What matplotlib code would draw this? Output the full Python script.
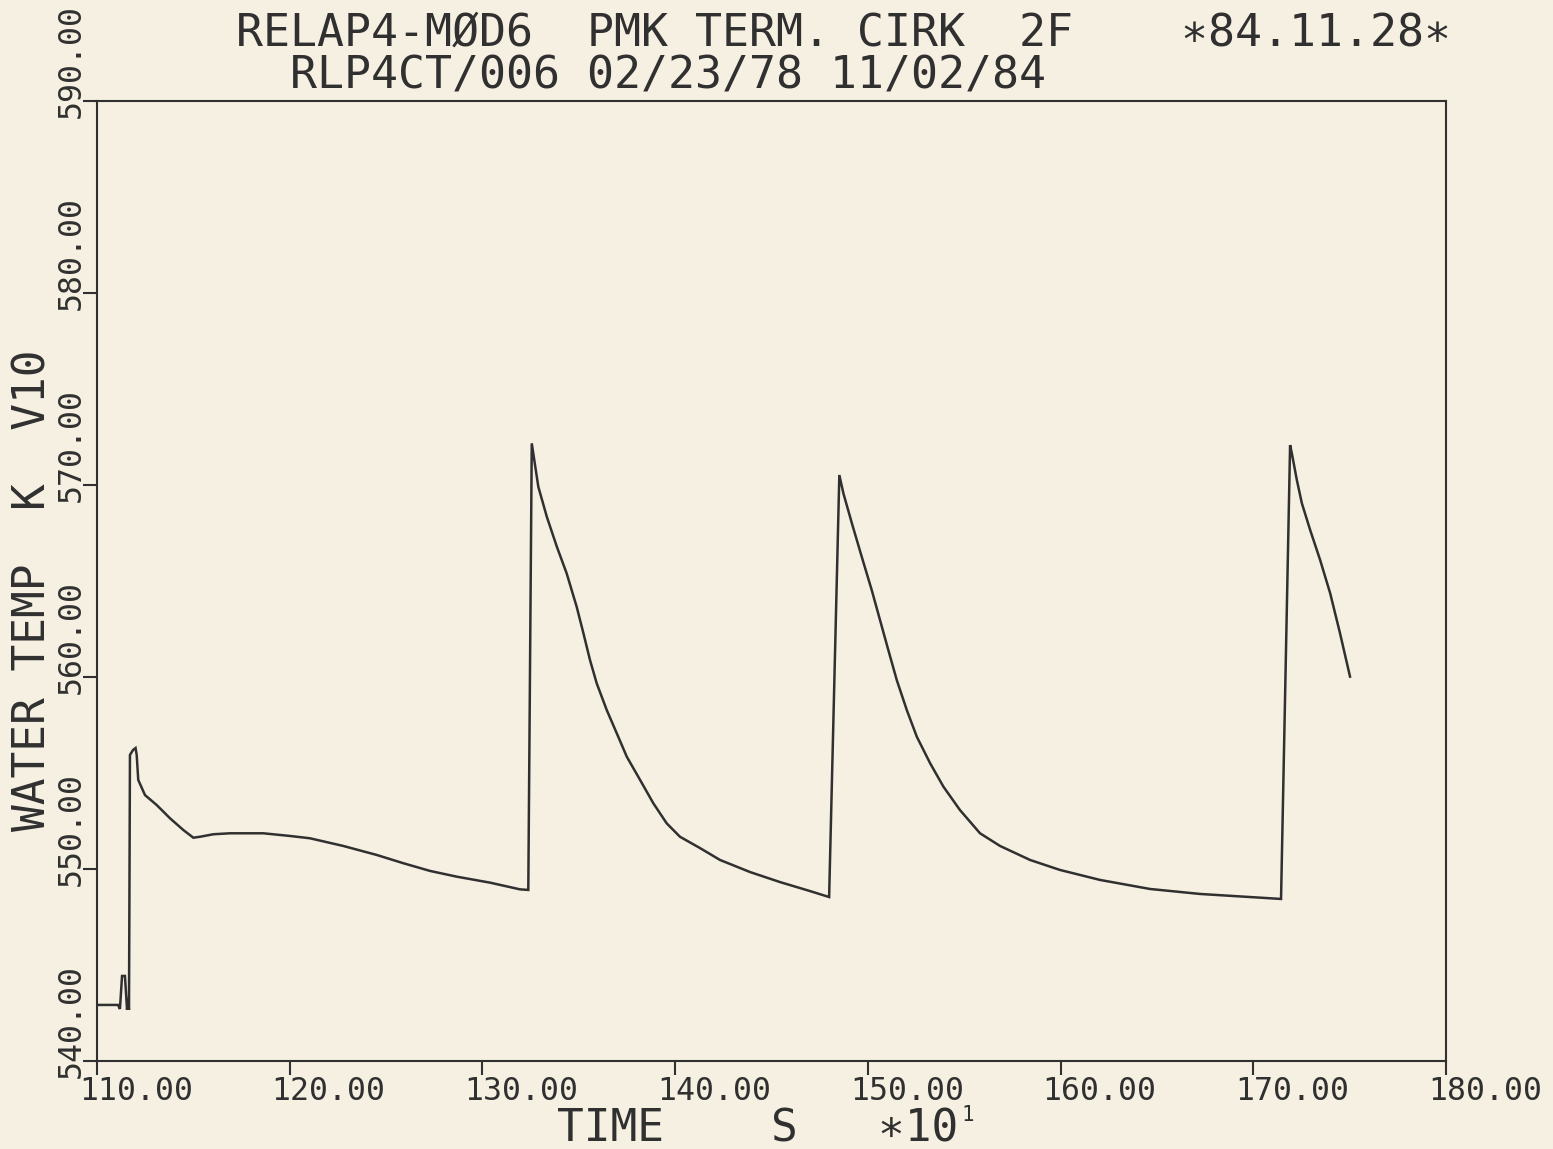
import matplotlib
matplotlib.use("Agg")
import matplotlib.pyplot as plt
import matplotlib.transforms as mtransforms

# water temperature at V10, time in units of 10 s
time = [110.05, 111.09, 111.19, 111.30, 111.45, 111.56, 111.61, 111.66, 111.71,
        111.87, 112.00, 112.06, 112.14, 112.49, 113.10, 113.79, 114.48, 115.00,
        115.35, 116.04, 116.90, 118.63, 120.02, 121.05, 122.78, 124.52, 125.90,
        127.28, 128.67, 130.39, 131.95, 132.38,
        132.56, 132.90, 133.34, 133.86, 134.37, 134.89, 135.24, 135.58, 135.93,
        136.45, 136.97, 137.49, 138.18, 138.87, 139.56, 140.25, 141.29, 142.33,
        143.89, 145.44, 147.00, 147.99,
        148.52, 148.73, 149.17, 149.68, 150.20, 150.63, 151.06, 151.50, 152.02,
        152.54, 153.23, 153.92, 154.78, 155.82, 156.86, 158.42, 159.97, 162.05,
        164.64, 167.24, 169.83, 171.44,
        171.91, 172.00, 172.26, 172.52, 172.95, 173.47, 173.99, 174.50, 175.02]
temp = [542.92, 542.92, 542.71, 544.43, 544.43, 542.66, 543.28, 542.66, 555.94,
        556.20, 556.30, 555.94, 554.64, 553.85, 553.33, 552.64, 552.03, 551.63,
        551.68, 551.81, 551.86, 551.86, 551.72, 551.60, 551.20, 550.73, 550.30,
        549.90, 549.60, 549.29, 548.94, 548.91,
        572.17, 569.91, 568.35, 566.79, 565.40, 563.66, 562.28, 560.89, 559.67,
        558.28, 557.07, 555.85, 554.64, 553.42, 552.38, 551.68, 551.09, 550.47,
        549.84, 549.32, 548.85, 548.54,
        570.52, 569.57, 568.01, 566.27, 564.53, 562.97, 561.41, 559.84, 558.28,
        556.89, 555.51, 554.29, 553.07, 551.86, 551.20, 550.47, 549.95, 549.43,
        548.96, 548.70, 548.54, 548.44,
        572.08, 571.65, 570.26, 569.05, 567.66, 566.09, 564.36, 562.28, 560.02]

xticks = [110, 120, 130, 140, 150, 160, 170, 180]
yticks = [540, 550, 560, 570, 580, 590]

title = ("RELAP4-MØD6  PMK TERM. CIRK  2F    \u221784.11.28\u2217\n"
         "  RLP4CT/006 02/23/78 11/02/84")
xlabel = "TIME    S   \u221710"
ylabel = "WATER TEMP  K  V10"

W, H = 1553, 1149
paper = "#f6f0e2"
ink = "#303030"
mono = ["DejaVu Sans Mono", "DejaVu Sans"]

fig = plt.figure(figsize=(W / 100, H / 100), dpi=100, facecolor=paper)
ax = fig.add_axes([97 / W, 1 - 1061 / H, (1446 - 97) / W, (1061 - 101) / H])
ax.set_facecolor(paper)

ax.plot(time, temp, color=ink, lw=1.8, solid_joinstyle="miter")

ax.set_xlim(110, 180)
ax.set_ylim(540, 590)
ax.set_xticks(xticks)
ax.set_yticks(yticks)
ax.set_xticklabels([])
ax.set_yticklabels([])
ax.tick_params(direction="out", length=10, width=1.5, color=ink)
for s in ax.spines.values():
    s.set_color(ink)
    s.set_linewidth(1.5)

# tick labels placed by hand, plotter style
xtr = mtransforms.blended_transform_factory(ax.transData, ax.transAxes)
xtr = mtransforms.offset_copy(xtr, fig=fig, x=-18, y=-15, units="dots")
for t in xticks:
    ax.text(t, 0, f"{t:.2f}", transform=xtr, ha="left", va="top",
            fontsize=22.7, family=mono, color=ink)

ytr = mtransforms.blended_transform_factory(ax.transAxes, ax.transData)
ytr = mtransforms.offset_copy(ytr, fig=fig, x=-41, y=-17, units="dots")
for v in yticks:
    ax.text(0, v, f"{v:.2f}", transform=ytr, ha="left", va="bottom",
            rotation=90, fontsize=22.7, family=mono, color=ink)


def fpos(x, y):
    return x / W, 1 - y / H


# two-line header; baseline given for the lower line
fig.text(*fpos(236, 88), title, fontsize=32.3, family=mono, color=ink,
         ha="left", va="baseline", linespacing=0.97)

fig.text(*fpos(557, 1142), xlabel, fontsize=32, family=mono, color=ink,
         ha="left", va="baseline")
fig.text(*fpos(962, 1121), "1", fontsize=15, family=mono, color=ink,
         ha="left", va="baseline")
fig.text(*fpos(55, 590), ylabel, fontsize=32, family=mono, color=ink,
         ha="right", va="center", rotation=90)

fig.savefig("out.png", dpi=100, facecolor=paper)
